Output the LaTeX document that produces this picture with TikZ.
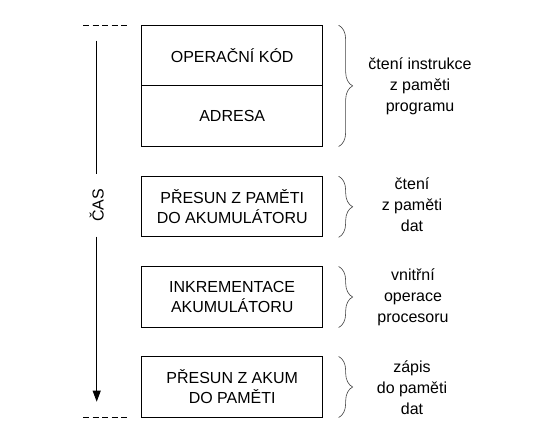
\documentclass[tikz,border=0pt]{standalone}
\usepackage{fontspec}
\setmainfont{Liberation Sans}
\usetikzlibrary{arrows.meta,positioning,decorations.pathreplacing}

\begin{document}
\begin{tikzpicture}[x=1pt,y=1pt,
  box/.style={draw,line width=0.9pt,minimum width=181pt,minimum height=60.2pt,inner sep=0pt,font=\fontsize{16}{20}\selectfont,align=center},
  brc/.style={decorate,decoration={brace,amplitude=14pt},line width=0.6pt,black!75},
  lbl/.style={font=\fontsize{16}{21}\selectfont,align=center}]
  \useasboundingbox (0,0) rectangle (536,444);
  % instruction steps
  \node[box] (op) at (232.2,388.2) {OPERAČNÍ KÓD};
  \node[box] (adr) at (232.2,328) {ADRESA};
  \node[box] (mov) at (232.2,237.2) {PŘESUN Z PAMĚTI\\DO AKUMULÁTORU};
  \node[box] (inc) at (232.2,147) {INKREMENTACE\\AKUMULÁTORU};
  \node[box] (sto) at (232.2,57) {PŘESUN Z AKUM\\DO PAMĚTI};
  % braces and what happens
  \draw[brc] ([xshift=15.5pt]op.north east) -- ([xshift=15.5pt]adr.south east);
  \draw[brc] ([xshift=15.5pt]mov.north east) -- ([xshift=15.5pt]mov.south east);
  \draw[brc] ([xshift=15.5pt]inc.north east) -- ([xshift=15.5pt]inc.south east);
  \draw[brc] ([xshift=15.5pt]sto.north east) -- ([xshift=15.5pt]sto.south east);
  \node[lbl] (l1) at (420,358) {čtení instrukce\\z paměti\\programu};
  \node[lbl] (l2) at (412,239) {čtení\\z paměti\\dat};
  \node[lbl] (l3) at (413,147) {vnitřní\\operace\\procesoru};
  \node[lbl] (l4) at (412,56) {zápis\\do paměti\\dat};
  % time axis
  \coordinate (t0) at (96.7,403.3);
  \coordinate (t1) at (96.7,42.3);
  \node[rotate=90,font=\fontsize{16}{20}\selectfont,inner xsep=14.5pt,inner ysep=2pt] (cas) at (96.7,238.5) {ČAS};
  \draw[line width=0.9pt] (t0) -- (cas);
  \draw[line width=0.9pt,-{Triangle[length=11pt,width=8pt]}] (cas) -- (t1);
  \coordinate (d0) at (83,418.3);
  \coordinate (d1) at (128,418.3);
  \coordinate (d2) at (83,27);
  \coordinate (d3) at (128,27);
  \draw[line width=0.9pt,dash pattern=on 6pt off 3.5pt] (d0) -- (d1);
  \draw[line width=0.9pt,dash pattern=on 6pt off 3.5pt] (d2) -- (d3);
\end{tikzpicture}
\end{document}
